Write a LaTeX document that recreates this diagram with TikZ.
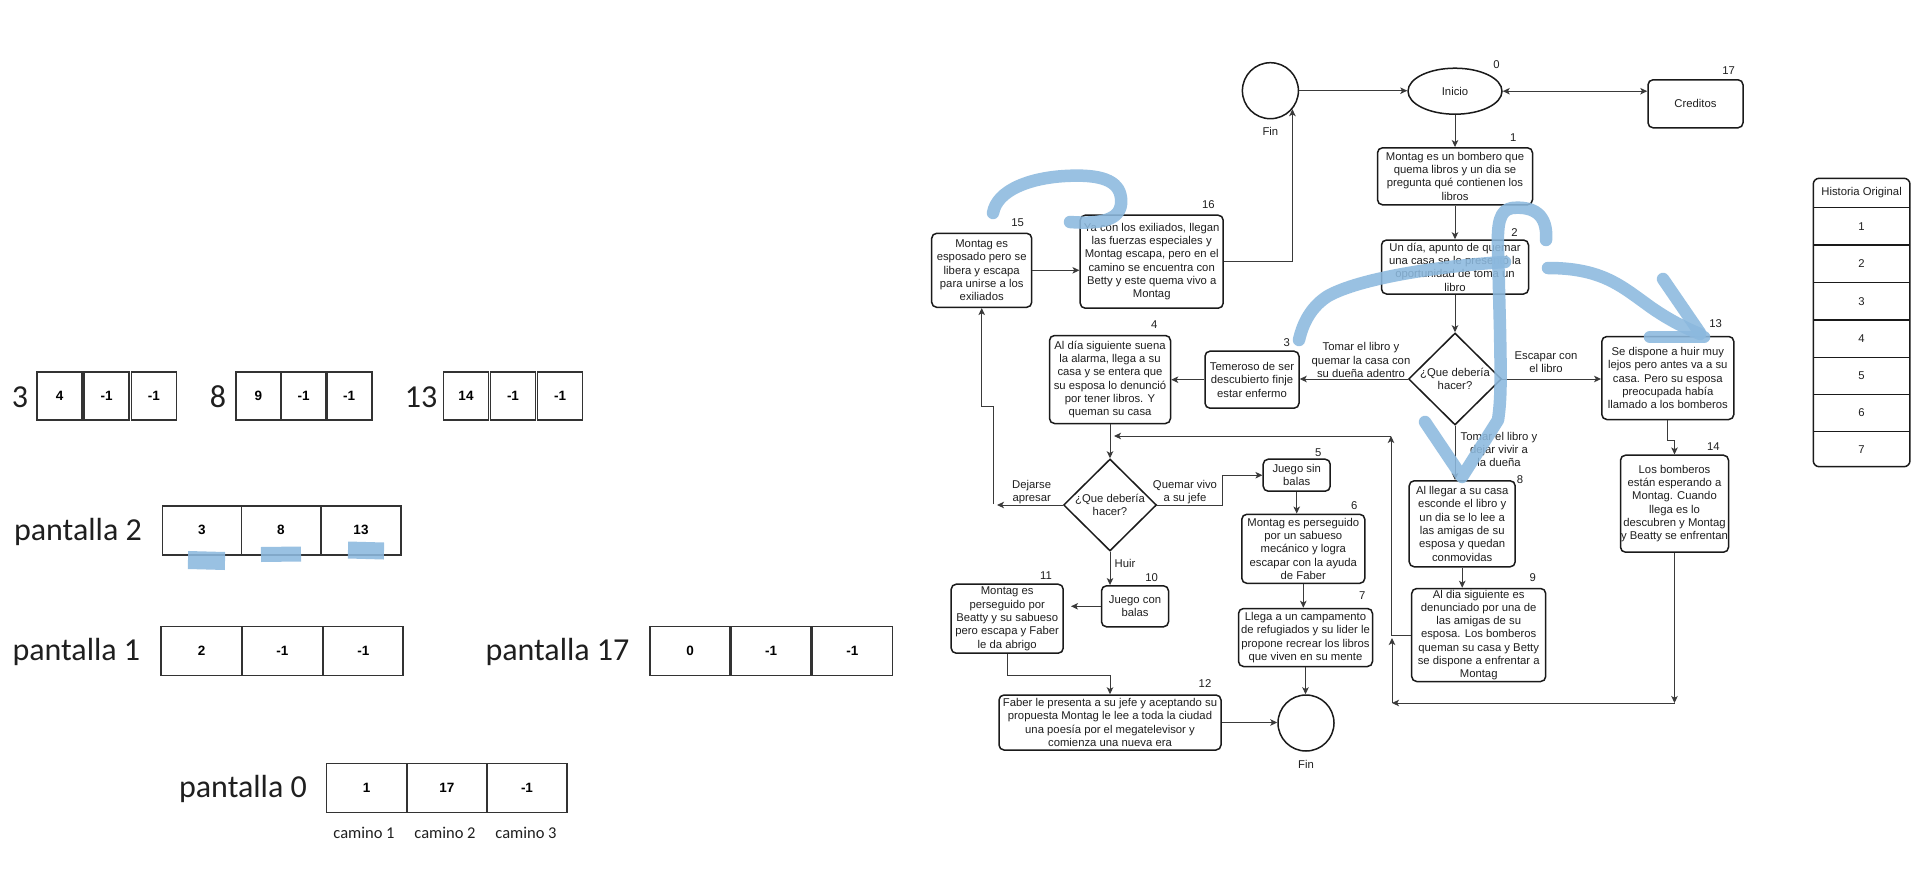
\documentclass[tikz,border=0pt]{standalone}
\usepackage{fontspec}
\setmainfont{Liberation Sans}
\newfontfamily\carl{Carlito}
\usetikzlibrary{shapes.geometric,arrows.meta,calc}
\definecolor{ln}{HTML}{1A1A1A}
\definecolor{tx}{HTML}{1F1F1F}
\definecolor{ar}{HTML}{3A3A3A}
\definecolor{cl}{HTML}{333333}
\definecolor{bl}{RGB}{140,185,222}
\newcommand\flowfont{\fontsize{11.3}{13.3}\selectfont}
\newcommand\cellfont{\fontsize{13.5}{15}\selectfont\bfseries}
\newcommand\bigfont{\carl\fontsize{32}{36}\selectfont}
\newcommand\camfont{\carl\fontsize{16.5}{18}\selectfont}
\begin{document}
\begin{tikzpicture}[x=1pt,y=-1pt,
 bx/.style 2 args={draw=ln,line width=1.5pt,rounded corners=5pt,fill=white,inner sep=0pt,align=center,font=\flowfont,text=tx,minimum width=#1pt,minimum height=#2pt},
 num/.style={font=\flowfont,text=tx,inner sep=0pt},
 lab/.style={font=\flowfont,text=tx,inner sep=0pt,align=center},
 arr/.style={draw=ar,line width=1pt,-{Stealth[length=7pt,width=6.5pt,inset=1.8pt]}},
 darr/.style={draw=ar,line width=1pt,{Stealth[length=7pt,width=6.5pt,inset=1.8pt]}-{Stealth[length=7pt,width=6.5pt,inset=1.8pt]}},
 plain/.style={draw=ar,line width=1pt},
 cell/.style 2 args={draw=cl,line width=1.8pt,minimum width=#1pt,minimum height=#2pt,inner sep=0pt,font=\cellfont,text=black},
 big/.style={font=\bigfont,text=tx,inner sep=0pt},
 blu/.style={draw=bl,line width=12.5pt,line cap=round,line join=round,opacity=0.88},
 circ/.style={draw=ln,line width=1.5pt,circle,minimum size=56pt,inner sep=0pt,fill=white},
 dia/.style={draw=ln,line width=1.5pt,diamond,minimum width=93pt,minimum height=92pt,inner sep=0pt,fill=white},
]
\path[fill=white] (0,0) rectangle (1920,872);
\useasboundingbox (0,0) rectangle (1920,872);

% ---------- left arrays ----------
\node[big] (t3) at (20,397) {3};
\node[cell={45}{48.6}] (c3a) at (59.7,396) {4};
\node[cell={45}{48.6}] (c3b) at (106.6,396) {-1};
\node[cell={45}{48.6}] (c3c) at (153.9,396) {-1};
\node[big] (t8) at (218,397) {8};
\node[cell={44.5}{48.6}] (c8a) at (258.5,396) {9};
\node[cell={44.5}{48.6}] (c8b) at (303.7,396) {-1};
\node[cell={45}{48.6}] (c8c) at (349.2,396) {-1};
\node[big] (t13) at (421,397) {13};
\node[cell={45}{48.6}] (c13a) at (466,396) {14};
\node[cell={45}{48.6}] (c13b) at (513,396) {-1};
\node[cell={45}{48.6}] (c13c) at (560,396) {-1};

\node[big] (tp2) at (78,532) {pantalla 2};
\node[cell={79}{49}] (p2a) at (202,530.3) {3};
\node[cell={79}{49}] (p2b) at (281,530.3) {8};
\node[cell={80}{49}] (p2c) at (361,530.3) {13};

\node[big] (tp1) at (76.4,652) {pantalla 1};
\node[cell={81}{49}] (p1a) at (201.6,651) {2};
\node[cell={81}{49}] (p1b) at (282.3,651) {-1};
\node[cell={80}{49}] (p1c) at (363.3,651) {-1};

\node[big] (tp17) at (557.5,652) {pantalla 17};
\node[cell={80.5}{49}] (p17a) at (690,651) {0};
\node[cell={80.5}{49}] (p17b) at (771,651) {-1};
\node[cell={80.5}{49}] (p17c) at (852.3,651) {-1};

\node[big] (tp0) at (243,789) {pantalla 0};
\node[cell={80.3}{49}] (p0a) at (366.6,788) {1};
\node[cell={80.3}{49}] (p0b) at (446.8,788) {17};
\node[cell={80.3}{49}] (p0c) at (527,788) {-1};
\node[font=\camfont,text=tx,inner sep=0pt] (cam1) at (364,833) {camino 1};
\node[font=\camfont,text=tx,inner sep=0pt] (cam2) at (445,833) {camino 2};
\node[font=\camfont,text=tx,inner sep=0pt] (cam3) at (526,833) {camino 3};

% ---------- flowchart nodes ----------
\node[circ] (fin1) at (1270.4,90.7) {};
\node[lab] (finl1) at (1270.4,131) {Fin};
\node[draw=ln,line width=1.5pt,ellipse,minimum width=94pt,minimum height=46pt,inner sep=0pt,fill=white,font=\flowfont,text=tx] (inicio) at (1455,91.2) {Inicio};
\node[bx={95}{48}] (cred) at (1695.5,103.8) {Creditos};
\node[bx={155}{57}] (n1) at (1455,176.3) {Montag es un bombero que\\quema libros y un dia se\\pregunta qué contienen los\\libros};
\node[bx={147}{54}] (n2) at (1455,267) {Un día, apunto de quemar\\una casa se le presentó la\\oportunidad de toma un\\libro};
\node[dia] (d1) at (1455,379) {};
\node[lab] (d1t) at (1455,379) {¿Que debería\\hacer?};
\node[bx={94}{57}] (n3) at (1252,379.7) {Temeroso de ser\\descubierto finje\\estar enfermo};
\node[bx={121}{88}] (n4) at (1110,379.5) {Al día siguiente suena\\la alarma, llega a su\\casa y se entera que\\su esposa lo denunció\\por tener libros. Y\\queman su casa};
\node[bx={100}{74}] (n15) at (981.7,270.3) {Montag es\\esposado pero se\\libera y escapa\\para unirse a los\\exiliados};
\node[bx={143}{93}] (n16) at (1151.7,261.7) {Ya con los exiliados, llegan\\las fuerzas especiales y\\Montag escapa, pero en el\\camino se encuentra con\\Betty y este quema vivo a\\Montag};
\node[dia] (d2) at (1110,505) {};
\node[lab] (d2t) at (1110,505) {¿Que debería\\hacer?};
\node[bx={67}{32}] (n5) at (1296.7,475.2) {Juego sin\\balas};
\node[bx={123}{69}] (n6) at (1303.3,548.8) {Montag es perseguido\\por un sabueso\\mecánico y logra\\escapar con la ayuda\\de Faber};
\node[bx={134}{58}] (n7) at (1305.5,637.5) {Llega a un campamento\\de refugiados y su lider le\\propone recrear los libros\\que viven en su mente};
\node[circ] (fin2) at (1306,723) {};
\node[lab] (finl2) at (1306,764) {Fin};
\node[bx={67}{41}] (n10) at (1135,606.3) {Juego con\\balas};
\node[bx={112}{69}] (n11) at (1007.2,618.7) {Montag es\\perseguido por\\Beatty y su sabueso\\pero escapa y Faber\\le da abrigo};
\node[bx={222}{55}] (n12) at (1110,722.5) {Faber le presenta a su jefe y aceptando su\\propuesta Montag le lee a toda la ciudad\\una poesía por el megatelevisor y\\comienza una nueva era};
\node[bx={106}{86}] (n8) at (1462.2,523.8) {Al llegar a su casa\\esconde el libro y\\un dia se lo lee a\\las amigas de su\\esposa y quedan\\conmovidas};
\node[bx={134}{93}] (n9) at (1478.7,635) {Al dia siguiente es\\denunciado por una de\\las amigas de su\\esposa. Los bomberos\\queman su casa y Betty\\se dispone a enfrentar a\\Montag};
\node[bx={132}{83}] (n13) at (1667.8,378) {Se dispone a huir muy\\lejos pero antes va a su\\casa. Pero su esposa\\preocupada había\\llamado a los bomberos};
\node[bx={108}{97}] (n14) at (1674.5,503.7) {Los bomberos\\están esperando a\\Montag. Cuando\\llega es lo\\descubren y Montag\\y Beatty se enfrentan};

% numbers
\node[num] (l0) at (1496.4,64.3) {0};
\node[num] (l17) at (1728.6,70.7) {17};
\node[num] (l1) at (1513.2,137.7) {1};
\node[num] (l16) at (1208.3,205) {16};
\node[num] (l2) at (1514.6,232.7) {2};
\node[num] (l15) at (1017.7,222.7) {15};
\node[num] (l4) at (1154.3,325) {4};
\node[num] (l3) at (1286.7,342.3) {3};
\node[num] (l13) at (1715.7,324) {13};
\node[num] (l5) at (1318.3,452.3) {5};
\node[num] (l6) at (1354.3,506) {6};
\node[num] (l8) at (1520,480) {8};
\node[num] (l7) at (1362.3,595.7) {7};
\node[num] (l9) at (1532.7,577.3) {9};
\node[num] (l10) at (1151.7,577.3) {10};
\node[num] (l11) at (1046,575.7) {11};
\node[num] (l12) at (1205,683.3) {12};
\node[num] (l14) at (1713.3,446.7) {14};

% edge labels
\node[lab] (e1) at (1361,360) {Tomar el libro y\\quemar la casa con\\su dueña adentro};
\node[lab] (e2) at (1546,362) {Escapar con\\el libro};
\node[lab] (e3) at (1499,449.5) {Tomar el libro y\\dejar vivir a\\la dueña};
\node[lab] (e4) at (1031.7,492) {Dejarse\\apresar};
\node[lab] (e5) at (1185,492) {Quemar vivo\\a su jefe};
\node[lab] (e6) at (1125,563.3) {Huir};

% table
\node[draw=ln,line width=1.5pt,rounded corners=6pt,minimum width=96.7pt,minimum height=288.4pt,inner sep=0pt] (tbl) at (1861.6,322.5) {};
\foreach \yy in {207.3,245,282.3,320,357.3,394.3,431.7} {\draw[ln,line width=1.3pt] (1813.3,\yy) -- (1910,\yy);}
\node[lab] (th) at (1861.6,192.8) {Historia Original};
\node[lab] (tr1) at (1861.6,226.2) {1};
\node[lab] (tr2) at (1861.6,263.7) {2};
\node[lab] (tr3) at (1861.6,301.2) {3};
\node[lab] (tr4) at (1861.6,338.7) {4};
\node[lab] (tr5) at (1861.6,375.8) {5};
\node[lab] (tr6) at (1861.6,413) {6};
\node[lab] (tr7) at (1861.6,449.2) {7};

% coordinates
\coordinate (dj) at (997,505);
\coordinate (j15a) at (993,504);
\coordinate (j15b) at (993,406.7);
\coordinate (cq) at (1222.7,505);
\coordinate (c10l) at (1071,606.3);
\coordinate (c9up) at (1391,436);
\coordinate (j4) at (1114,436);
\coordinate (c14a) at (1674.5,703);
\coordinate (cbl) at (1392,703);
\coordinate (c14c) at (1392,638);

% ---------- connectors ----------
\draw[arr] (fin1.east) -- (fin1.east -| inicio.west);
\draw[darr] (inicio.east) -- (inicio.east -| cred.west);
\draw[arr] (inicio.south) -- (n1.north);
\draw[arr] (n1.south) -- (n2.north);
\draw[arr] (n2.south) -- (d1.north);
\draw[arr] (d1.west) -- (d1.west -| n3.east);
\draw[arr] (d1.east) -- (d1.east -| n13.west);
\draw[arr] (d1.south) -- (d1.south |- n8.north);
\draw[arr] (n3.west) -- (n3.west -| n4.east);
\draw[arr] (n4.south) -- (d2.north);
\draw[arr] (d2.west) -- (dj);
\draw[arr] (j15a) -- (j15b) -| (n15.south);
\draw[arr] (n15.east) -- (n15.east -| n16.west);
\draw[arr] (n16.east) -| (fin1.-40);
\draw[arr] (d2.east) -- (cq) |- (n5.west);
\draw[arr] (n5.south) -- (n5.south |- n6.north);
\draw[arr] (n6.south) -- (n6.south |- n7.north);
\draw[arr] (n7.south) -- (n7.south |- fin2.north);
\draw[arr] (d2.south) -- (d2.south |- n10.north);
\draw[arr] (n10.west) -- (c10l);
\draw[arr] (n11.south) -- ++(0,21.7) -| (n12.north);
\draw[arr] (n12.east) -- (n12.east -| fin2.west);
\draw[arr] (n8.south) -- (n8.south |- n9.north);
\draw[arr] (n9.west) -| (c9up);
\draw[arr] (c9up) -- (j4);
\draw[arr] (n13.south) -- ++(0,20) -| (n14.north);
\draw[arr] (n14.south) -- (c14a);
\draw[arr] (c14a) -- (cbl);
\draw[arr] (cbl) -- (c14c);

% ---------- blue hand marks ----------
\draw[blu] (993,213) .. controls (997,190) and (1030,178) .. (1065,176) .. controls (1100,174) and (1119,180) .. (1121,198) .. controls (1123,216) and (1110,225) .. (1070,222);
\draw[blu] (1546,240) .. controls (1548,214) and (1533,206) .. (1512,208) .. controls (1500,210) and (1497,222) .. (1498,250) -- (1500,330) .. controls (1501,380) and (1501,400) .. (1498,420) -- (1462,477) -- (1425,422);
\draw[blu] (1505,262) .. controls (1440,266) and (1360,278) .. (1328,296) .. controls (1312,306) and (1303,322) .. (1299,340);
\draw[blu] (1548,268) .. controls (1600,268) and (1620,285) .. (1645,303) .. controls (1665,318) and (1685,328) .. (1700,334);
\draw[blu] (1663,279) -- (1700,333);
\draw[blu] (1650,337) -- (1704,337);
\draw[draw=bl,opacity=0.88,line width=18pt] (188,560) -- (225,561);
\draw[draw=bl,opacity=0.88,line width=15pt] (261,554.5) -- (301,554);
\draw[draw=bl,opacity=0.88,line width=17pt] (348,550) -- (384,551);
\end{tikzpicture}
\end{document}
